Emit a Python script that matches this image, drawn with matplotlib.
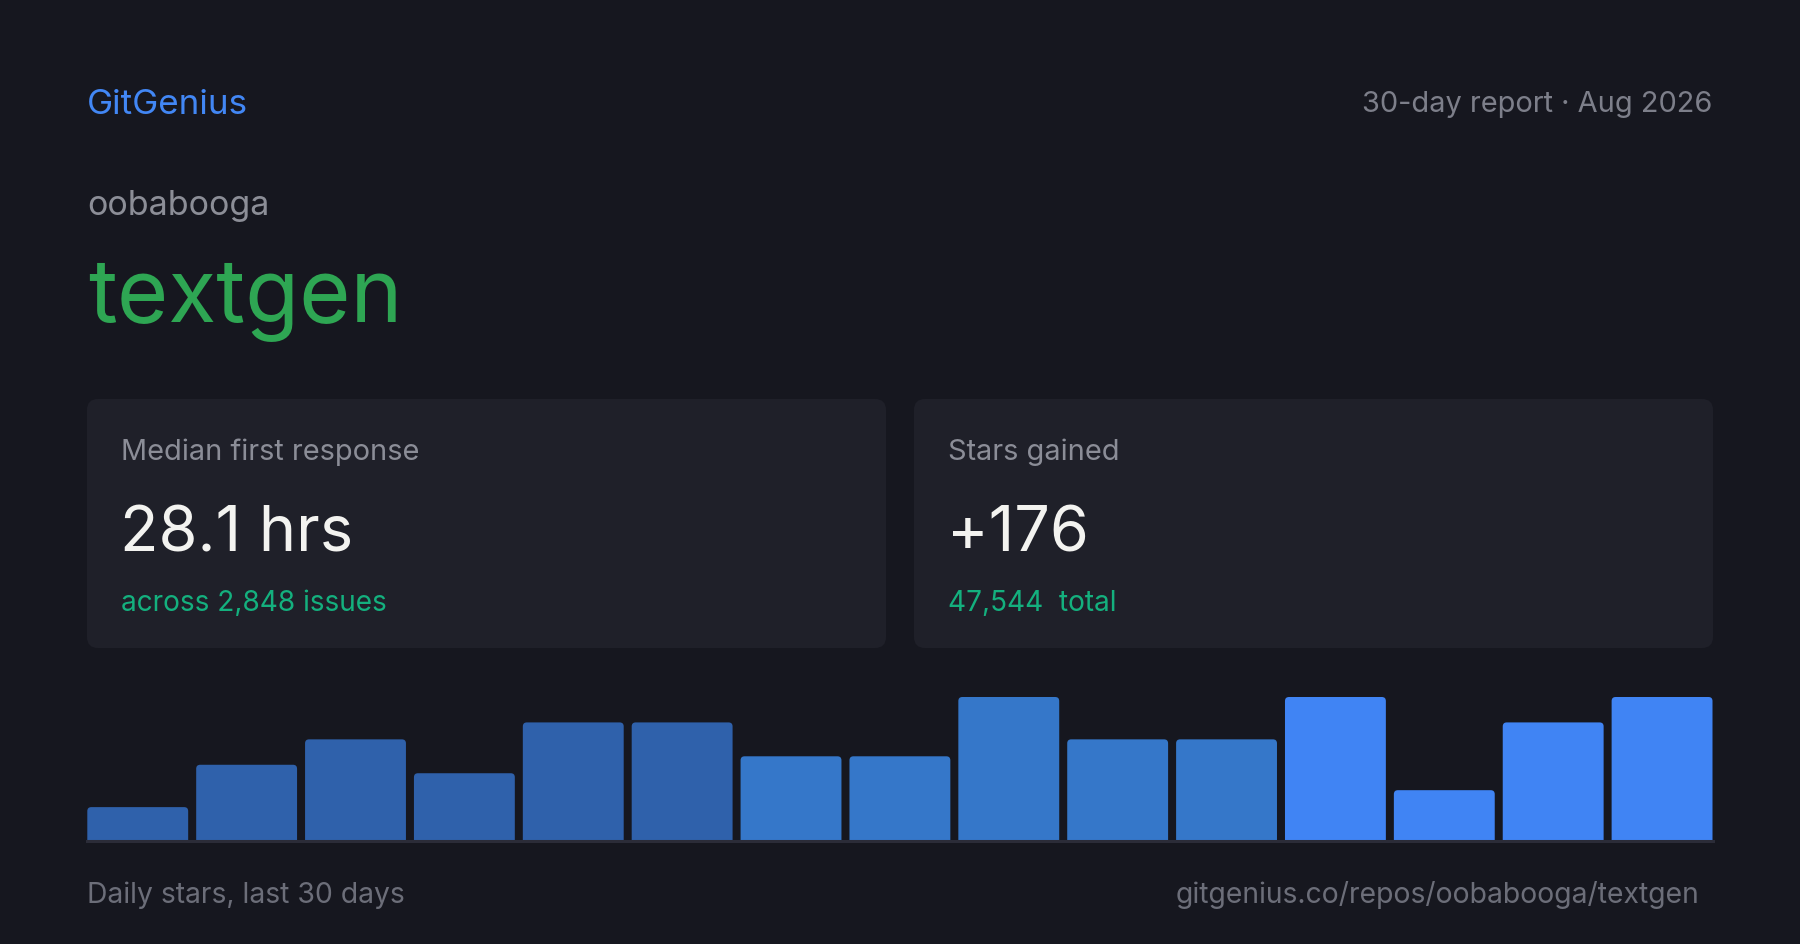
import matplotlib
matplotlib.use('Agg')
import matplotlib.pyplot as plt
from matplotlib.patches import FancyBboxPatch

plt.rcParams['font.family'] = ['Inter', 'DejaVu Sans']

# data
brand = 'GitGenius'
report_label = '30-day report · Aug 2026'
owner = 'oobabooga'
repo = 'textgen'
card_titles = ['Median first response', 'Stars gained']
card_values = ['28.1 hrs', '+176']
card_notes = ['across 2,848 issues', '47,544  total']
daily_stars = [4, 9, 12, 8, 14, 14, 10, 10, 17, 12, 12, 17, 6, 14, 17]
bar_group = [0, 0, 0, 0, 0, 0, 1, 1, 1, 1, 1, 2, 2, 2, 2]
footer_left = 'Daily stars, last 30 days'
footer_right = 'gitgenius.co/repos/oobabooga/textgen'

# colours
BG = '#16171f'
CARD = '#1f2029'
BAR_COLORS = ['#2f61ab', '#3577c9', '#4084f4']

W, H = 1800, 945
fig = plt.figure(figsize=(18, 9.45), dpi=100)
fig.patch.set_facecolor(BG)

# full-size canvas axes in pixel units (y down)
cv = fig.add_axes([0, 0, 1, 1])
cv.set_xlim(0, W)
cv.set_ylim(H, 0)
cv.axis('off')
cv.set_facecolor(BG)


def px(size):
    return size * 0.72


cv.text(87, 114, brand, color='#4287f5', fontsize=px(35), va='baseline', ha='left')
cv.text(1712, 112, report_label, color='#7d7f8a', fontsize=px(29), va='baseline', ha='right')
cv.text(87, 215, owner, color='#8c8e97', fontsize=px(34), va='baseline', ha='left')
cv.text(88, 322, repo, color='#2ea653', fontsize=px(88), va='baseline', ha='left')

# cards
card_x = [87, 914]
card_w = 799
for i in range(2):
    x0 = card_x[i]
    cv.add_patch(FancyBboxPatch((x0, 400), card_w, 249,
                                boxstyle='round,pad=0,rounding_size=11',
                                fc=CARD, ec='none'))
    cv.text(x0 + 34, 460, card_titles[i], color='#8b8d97', fontsize=px(29),
            va='baseline', ha='left')
    cv.text(x0 + 33, 551, card_values[i], color='#f3f3f0', fontsize=px(63),
            va='baseline', ha='left')
    cv.text(x0 + 34, 611, card_notes[i], color='#14b07e', fontsize=px(28),
            va='baseline', ha='left')

# bar chart
left, right = 87.3, 1712.5
base, top = 842, 698
ax = fig.add_axes([left / W, 1 - base / H, (right - left) / W, (base - top) / H])
ax.set_facecolor('none')
n = len(daily_stars)
gap = 8
pitch = (right - left + gap) / n
width = (pitch - gap) / pitch
colors = [BAR_COLORS[g] for g in bar_group]
bars = ax.bar(range(n), daily_stars, width=width, color=colors, linewidth=0)
ax.set_xlim(-width / 2, n - 1 + width / 2)
ax.set_ylim(0, max(daily_stars))

# swap the plain rectangles for ones with rounded top corners
r_px = 4
px_per_x = pitch
px_per_y = (base - top) / max(daily_stars)
r_x = r_px / px_per_x
aspect = (r_px / px_per_y) / r_x
for b in bars:
    x, w, h = b.get_x(), b.get_width(), b.get_height()
    ax.add_patch(FancyBboxPatch((x, -1), w, h + 1,
                                boxstyle=f'round,pad=0,rounding_size={r_x}',
                                mutation_aspect=aspect,
                                fc=b.get_facecolor(), ec='none'))
    b.set_visible(False)

for s in ['top', 'right', 'left']:
    ax.spines[s].set_visible(False)
ax.spines['bottom'].set_color('#2b2c38')
ax.spines['bottom'].set_linewidth(2.2)
ax.spines['bottom'].set_zorder(5)
ax.set_xticks([])
ax.set_yticks([])

cv.text(87, 903, footer_left, color='#6c6e79', fontsize=px(28.3), va='baseline', ha='left')
cv.text(1699, 903, footer_right, color='#6c6e79', fontsize=px(28.3), va='baseline', ha='right')

fig.savefig('out.png', dpi=100, facecolor=BG)
